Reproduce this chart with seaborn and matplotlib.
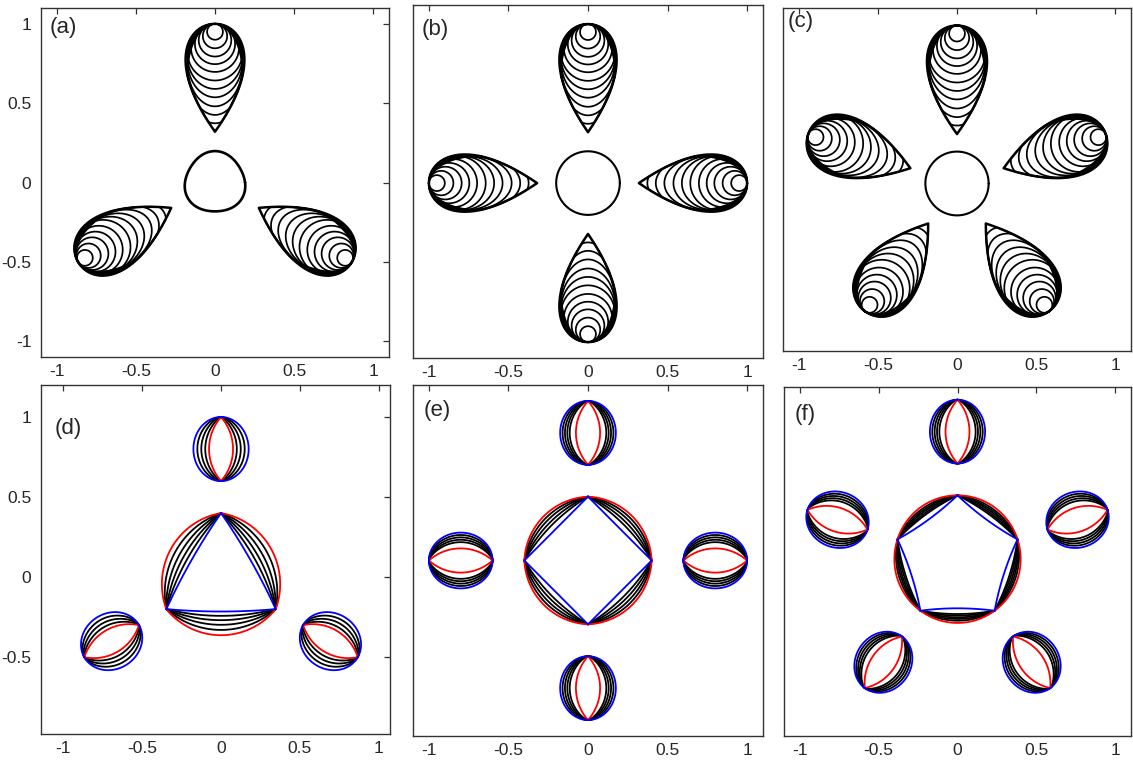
import numpy as np
import pandas as pd
import matplotlib
matplotlib.use("Agg")
import matplotlib.pyplot as plt
import seaborn as sns

sns.set_theme(style="white")
plt.rcParams["font.family"] = ["Liberation Sans", "DejaVu Sans"]
plt.rcParams["axes.unicode_minus"] = False

# ------------------------------------------------------------------ data
PANEL_LABELS = ["(a)", "(b)", "(c)", "(d)", "(e)", "(f)"]
FOLDS = [3, 4, 5]
TICK_VALUES = [-1, -0.5, 0, 0.5, 1]
TICK_LABELS = ["-1", "-0.5", "0", "0.5", "1"]
YTICK_VALUES_D = [-0.5, 0, 0.5, 1]
YTICK_LABELS_D = ["-0.5", "0", "0.5", "1"]

# top row: nested teardrops (round end / tip distance from centre, half width)
TEAR_ROUND_END = [1.00, 1.00, 0.99]
TEAR_TIP = [0.32, 0.32, 0.31]
TEAR_HALF_WIDTH = [0.186, 0.180, 0.190]
NEST_DEPTH = [0.100, 0.154, 0.206, 0.254, 0.303, 0.357, 0.410, 0.463, 0.520, 0.574, 0.627]
NEST_MAX_HALF_WIDTH = [0.174, 0.170, 0.178]
CORE_RADIUS = [0.19, 0.20, 0.20]
CORE_LOBE = [0.008, 0.0, 0.0]

# bottom row: polygon-to-circle family and lens-to-ellipse family
VERTEX_RADIUS = [0.40, 0.40, 0.40]
EDGE_SAGITTA = [
    [0.015, 0.042, 0.069, 0.098, 0.130, 0.163],          # (d) blue ... red
    [0.000, 0.035, 0.055, 0.075, 0.093, 0.110],          # (e)
    [-0.015, 0.021, 0.031, 0.042, 0.052, 0.063, 0.077],  # (f)
]
LENS_CENTER_R = [0.80, 0.80, 0.80]
LENS_HALF_LENGTH = [0.20, 0.20, 0.20]
LENS_WIDTH = [
    [0.076, 0.100, 0.125, 0.150, 0.175],                 # (d) red ... blue
    [0.076, 0.115, 0.130, 0.145, 0.160, 0.175],          # (e)
    [0.076, 0.115, 0.130, 0.145, 0.160, 0.175],          # (f)
]
LENS_BLEND = [
    [0.0, 0.25, 0.50, 0.75, 1.0],
    [0.0, 0.40, 0.55, 0.70, 0.85, 1.0],
    [0.0, 0.40, 0.55, 0.70, 0.85, 1.0],
]

# axes limits (per panel)
XLIMS = [(-1.1, 1.1), (-1.1, 1.1), (-1.1, 1.1), (-1.14, 1.07), (-1.1, 1.1), (-1.1, 1.1)]
YLIMS = [(-1.1, 1.1), (-1.1, 1.12), (-1.05, 1.1), (-0.98, 1.2), (-1.1, 1.1), (-1.11, 1.08)]
# axes boxes in pixels: x0, y0(top), x1, y1(bottom)
BOXES = [(41, 8, 389, 357), (413, 5, 763, 358), (783, 8, 1131, 351),
         (41, 385, 390, 734), (413, 385, 763, 736), (784, 387, 1131, 736)]
LABEL_POS = [(0.026, 0.975), (0.026, 0.96), (0.012, 0.99),
             (0.04, 0.905), (0.03, 0.957), (0.03, 0.95)]

PALETTE = {"black": "#000000", "red": "#ff0000", "blue": "#0000ff"}


# ------------------------------------------------------------------ geometry helpers
def place(v, u, r0, phi):
    """local (depth v from r0 towards centre, lateral u) -> global xy"""
    ex, ey = np.cos(phi), np.sin(phi)
    r = r0 - v
    return r * ex - u * ey, r * ey + u * ex


def tear_profile(v, L, W):
    s = np.clip(2 * v / L - 1, -1, 1)
    a = W / 0.7698
    return a * np.sqrt(1 - s ** 2) * np.sqrt((1 - s) / 2)


def closed_profile(length, prof, npts=220):
    th = np.linspace(0, np.pi, npts)
    v = length * (1 - np.cos(th)) / 2
    u = prof(v)
    vv = np.concatenate([v, v[::-1]])
    uu = np.concatenate([u, -u[::-1]])
    return vv, uu


rows = []


def add(panel, cid, color, x, y, kind):
    rows.append(pd.DataFrame({"panel": panel, "curve": cid, "color": color,
                              "kind": kind, "x": x, "y": y}))


# top row
for p, n in enumerate(FOLDS):
    R0, tip, W = TEAR_ROUND_END[p], TEAR_TIP[p], TEAR_HALF_WIDTH[p]
    L = R0 - tip
    for k in range(n):
        phi = np.deg2rad(90 + 360.0 * k / n)
        vv, uu = closed_profile(L, lambda v: tear_profile(v, L, W), 400)
        x, y = place(vv, uu, R0, phi)
        add(p, f"{p}-{k}-outer", "black", x, y, "outer")
        for j, b in enumerate(NEST_DEPTH):
            A = min(b / 2, NEST_MAX_HALF_WIDTH[p])

            def prof(v, b=b, A=A):
                e = (2 * A / b) * np.sqrt(np.clip(v * (b - v), 0, None))
                return np.minimum(e, tear_profile(v, L, W))

            vv, uu = closed_profile(b, prof, 260)
            x, y = place(vv, uu, R0, phi)
            add(p, f"{p}-{k}-{j}", "black", x, y, "inner")
    th = np.linspace(0, 2 * np.pi, 400)
    r = CORE_RADIUS[p] + CORE_LOBE[p] * np.cos(n * (th - np.pi / 2))
    add(p, f"{p}-core", "black", r * np.cos(th), r * np.sin(th), "core")

# bottom row
for q, n in enumerate(FOLDS):
    p = q + 3
    Rv = VERTEX_RADIUS[q]
    ang = np.deg2rad(90 + 360.0 * np.arange(n + 1) / n)
    vx, vy = Rv * np.cos(ang), Rv * np.sin(ang)
    sags = EDGE_SAGITTA[q]
    for j, s in enumerate(sags):
        color = "blue" if j == 0 else ("red" if j == len(sags) - 1 else "black")
        xs, ys = [], []
        for e in range(n):
            P1 = np.array([vx[e], vy[e]])
            P2 = np.array([vx[e + 1], vy[e + 1]])
            M = (P1 + P2) / 2
            d = P2 - P1
            h = np.linalg.norm(d) / 2
            t_hat = d / (2 * h)
            nrm = M / np.linalg.norm(M)
            t = np.linspace(-1, 1, 120)
            if abs(s) < 1e-9:
                f = np.zeros_like(t)
            else:
                R = (h ** 2 + s ** 2) / (2 * abs(s))
                f = np.sign(s) * (np.sqrt(R ** 2 - (t * h) ** 2) - (R - abs(s)))
            pts = M[None, :] + (t * h)[:, None] * t_hat[None, :] + f[:, None] * nrm[None, :]
            xs.append(pts[:, 0])
            ys.append(pts[:, 1])
        add(p, f"{p}-poly-{j}", color, np.concatenate(xs), np.concatenate(ys), "col")
    ws, bl = LENS_WIDTH[q], LENS_BLEND[q]
    hl = LENS_HALF_LENGTH[q]
    w0 = ws[0]
    Rarc = (hl ** 2 + w0 ** 2) / (2 * w0)
    for k in range(n):
        phi = np.deg2rad(90 + 360.0 * k / n)
        for j, (w, a) in enumerate(zip(ws, bl)):
            color = "red" if j == 0 else ("blue" if j == len(ws) - 1 else "black")

            def prof(v, w=w, a=a):
                z = np.clip(v / hl - 1, -1, 1)
                arc = (np.sqrt(np.clip(Rarc ** 2 - (z * hl) ** 2, 0, None)) - (Rarc - w0)) / w0
                ell = np.sqrt(np.clip(1 - z ** 2, 0, None))
                return w * ((1 - a) * np.clip(arc, 0, None) + a * ell)

            vv, uu = closed_profile(2 * hl, prof, 300)
            x, y = place(vv, uu, LENS_CENTER_R[q] + hl, phi)
            add(p, f"{p}-lens-{k}-{j}", color, x, y, "col")

df = pd.concat(rows, ignore_index=True)

# ------------------------------------------------------------------ figure
W_PX, H_PX = 1133, 761
fig = plt.figure(figsize=(W_PX / 100, H_PX / 100), dpi=100)

for p in range(6):
    x0, y0, x1, y1 = BOXES[p]
    ax = fig.add_axes([x0 / W_PX, 1 - y1 / H_PX, (x1 - x0) / W_PX, (y1 - y0) / H_PX])
    sub = df[df["panel"] == p]
    if p < 3:
        sns.lineplot(data=sub[sub["kind"] == "inner"], x="x", y="y", units="curve",
                     estimator=None, sort=False, color="black", linewidth=1.25, ax=ax)
        sns.lineplot(data=sub[sub["kind"] == "outer"], x="x", y="y", units="curve",
                     estimator=None, sort=False, color="black", linewidth=1.8, ax=ax)
        sns.lineplot(data=sub[sub["kind"] == "core"], x="x", y="y", units="curve",
                     estimator=None, sort=False, color="black",
                     linewidth=1.9 if p == 0 else 1.5, ax=ax)
    else:
        sns.lineplot(data=sub, x="x", y="y", hue="color", units="curve",
                     estimator=None, sort=False, palette=PALETTE,
                     hue_order=["black", "red", "blue"], legend=False,
                     linewidth=1.3, ax=ax)
    ax.set_xlim(*XLIMS[p])
    ax.set_ylim(*YLIMS[p])
    ax.set_xlabel("")
    ax.set_ylabel("")
    ax.set_xticks(TICK_VALUES)
    ax.set_xticklabels(TICK_LABELS)
    if p == 0:
        ax.set_yticks(TICK_VALUES)
        ax.set_yticklabels(TICK_LABELS)
    elif p == 3:
        ax.set_yticks(YTICK_VALUES_D)
        ax.set_yticklabels(YTICK_LABELS_D)
    else:
        ax.set_yticks([])
    ax.tick_params(direction="in", top=True, right=True, length=4, width=0.9,
                   color="#333333", labelsize=12.5, labelcolor="#262626", pad=5)
    ax.tick_params(axis="y", pad=7)
    for sp in ax.spines.values():
        sp.set_color("#333333")
        sp.set_linewidth(1.0)
    ax.text(LABEL_POS[p][0], LABEL_POS[p][1], PANEL_LABELS[p], transform=ax.transAxes,
            ha="left", va="top", fontsize=16, color="#262626")

fig.savefig("out.png", dpi=100)
